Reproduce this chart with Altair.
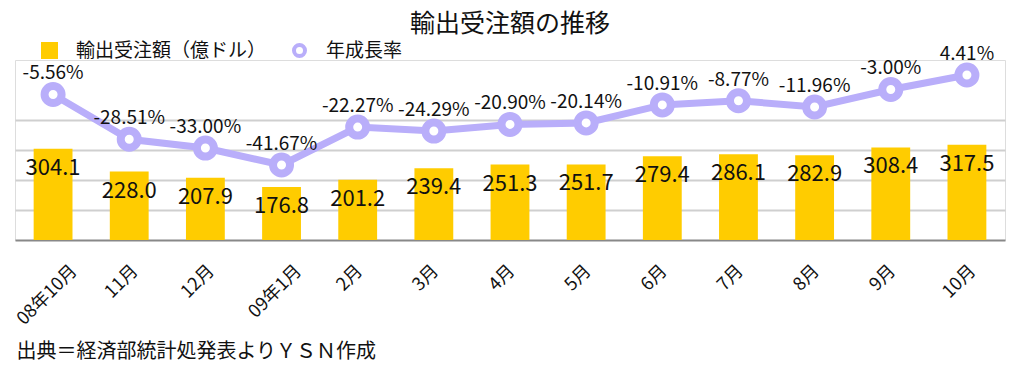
import altair as alt
import pandas as pd

months = ["08年10月", "11月", "12月", "09年1月", "2月", "3月", "4月", "5月", "6月", "7月", "8月", "9月", "10月"]
orders = [304.1, 228.0, 207.9, 176.8, 201.2, 239.4, 251.3, 251.7, 279.4, 286.1, 282.9, 308.4, 317.5]
growth = [-5.56, -28.51, -33.00, -41.67, -22.27, -24.29, -20.90, -20.14, -10.91, -8.77, -11.96, -3.00, 4.41]

BAR_NAME = "輸出受注額（億ドル）"
LINE_NAME = "年成長率"
YELLOW = "#FFCC00"
LAV = "#B9AEFA"
F = "Noto Sans CJK JP"

df = pd.DataFrame({
    "month": months,
    "orders": orders,
    "growth": growth,
    "olabel": [f"{v:.1f}" for v in orders],
    "glabel": [f"{v:.2f}%" for v in growth],
    "s1": BAR_NAME,
    "s2": LINE_NAME,
})

# rotated labels: the end of longer labels sits a little further right
label_shift = "3.2 * (indexof(datum.label, '年') >= 0 ? 2 : 1) + 4 * length(datum.label) - 9"

x = alt.X(
    "month:N",
    sort=months,
    scale=alt.Scale(paddingInner=0.49, paddingOuter=0.245),
    axis=alt.Axis(
        title="出典＝経済部統計処発表よりＹＳＮ作成",
        titleFont=F, titleFontSize=20, titleFontWeight="normal", titleColor="#111",
        titleX=1, titleY=111, titleAlign="left", titleBaseline="middle", titleAngle=0,
        labelAngle=315, labelAlign="right", labelBaseline="middle",
        labelFont=F, labelFontSize=18, labelColor="#111",
        labelPadding=28, labelOffset=alt.ExprRef(label_shift), labelLimit=0, labelOverlap=False,
        ticks=False, tickSize=0,
        domain=True, domainColor="#888888", domainWidth=2,
        grid=False,
    ),
)

ybar = alt.Y(
    "orders:Q",
    scale=alt.Scale(domain=[0, 600], nice=False, zero=True),
    axis=alt.Axis(
        values=[100, 200, 300, 400], grid=True, gridColor="#CFCFCF", gridWidth=2,
        labels=False, ticks=False, domain=False, title=None,
    ),
)

yline = alt.Y(
    "growth:Q",
    scale=alt.Scale(domain=[-80.1, 12.1], nice=False, zero=False),
    axis=None,
)

base = alt.Chart(df)

bars = base.mark_bar(color=YELLOW).encode(
    x=x,
    y=ybar,
    fill=alt.Fill(
        "s1:N",
        scale=alt.Scale(domain=[BAR_NAME], range=[YELLOW]),
        legend=alt.Legend(
            orient="none", legendX=25, legendY=-19, title=None,
            symbolType="square", symbolSize=289, symbolStrokeWidth=0,
            labelFont=F, labelFontSize=19, labelColor="#111", labelOffset=17,
            labelLimit=0, padding=0,
        ),
    ),
)

bartext = base.mark_text(
    font=F, fontSize=22, color="#111", baseline="middle", dy=19
).encode(x=x, y=ybar, text="olabel:N")

line = base.mark_line(color=LAV, strokeWidth=7).encode(x=x, y=yline)

points = base.mark_point(
    filled=False, fill="white", fillOpacity=1, strokeWidth=8, size=289, opacity=1, shape="circle"
).encode(
    x=x,
    y=yline,
    stroke=alt.Stroke(
        "s2:N",
        scale=alt.Scale(domain=[LINE_NAME], range=[LAV]),
        legend=alt.Legend(
            orient="none", legendX=275, legendY=-19, title=None,
            symbolType="circle", symbolSize=121, symbolStrokeWidth=4,
            symbolFillColor="white",
            labelFont=F, labelFontSize=19, labelColor="#111", labelOffset=17,
            labelLimit=0, padding=0,
        ),
    ),
)

pct = base.mark_text(
    font=F, fontSize=19, color="#111", baseline="middle", dy=-21
).encode(x=x, y=yline, text="glabel:N")

bar_layer = alt.layer(bars, bartext)
line_layer = alt.layer(line, points, pct)

chart = alt.layer(bar_layer, line_layer).resolve_scale(
    y="independent"
).properties(
    width=990,
    height=180,
    padding={"left": 7, "top": 52, "right": 20, "bottom": 125},
    autosize=alt.AutoSizeParams(type="none"),
    title=alt.TitleParams(
        "輸出受注額の推移", font=F, fontSize=25, fontWeight="normal",
        color="#111", anchor="middle", offset=4,
    ),
).configure_view(stroke=None).configure(background="white")

chart.save("out.html", embed_options={"renderer": "svg", "actions": False})
